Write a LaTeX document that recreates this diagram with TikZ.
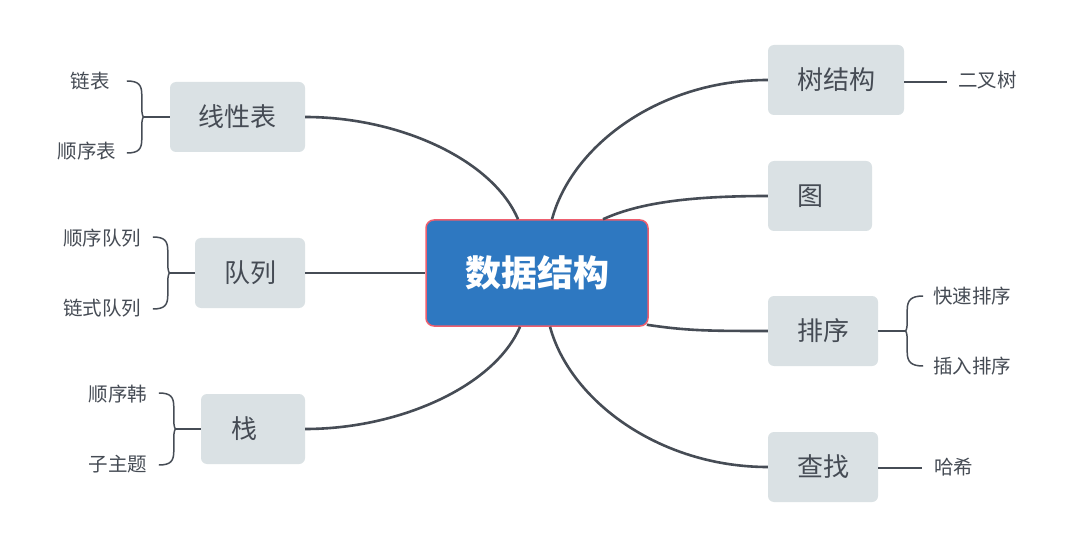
\documentclass[tikz,border=0pt]{standalone}
\usepackage{fontspec}
\setmainfont{Noto Sans CJK SC}
\usetikzlibrary{calc}
\definecolor{linec}{HTML}{464C55}
\definecolor{boxc}{HTML}{DAE1E4}
\definecolor{txtc}{HTML}{454B54}
\definecolor{mainc}{HTML}{2E78C1}
\definecolor{mainb}{HTML}{EE5E6E}
\begin{document}
\begin{tikzpicture}[x=1pt,y=-1pt,
  topic/.style={fill=boxc, rounded corners=6pt, minimum height=70pt, inner sep=0pt, text=txtc, font=\fontsize{26}{26}\selectfont},
  sub/.style={text=txtc, font=\fontsize{19.5}{19.5}\selectfont, inner sep=0pt},
  mainbox/.style={fill=mainc, draw=mainb, line width=1.5pt, rounded corners=8pt, minimum width=222pt, minimum height=106pt, inner sep=0pt, text=white, font=\fontsize{36}{36}\selectfont\bfseries},
  conn/.style={draw=linec, line width=2.6pt},
  thinline/.style={draw=linec, line width=1.5pt},
  lbr/.pic={\draw[thinline] (-17,-36) .. controls (-5,-36) and (-2,-32) .. (-2,-22) -- (-2,-9) .. controls (-2,-3) and (-1,0) .. (0,0) .. controls (-1,0) and (-2,3) .. (-2,9) -- (-2,22) .. controls (-2,32) and (-5,36) .. (-17,36);},
  rbr/.pic={\draw[thinline] (18,-35) .. controls (6,-35) and (2,-31) .. (2,-21) -- (2,-9) .. controls (2,-3) and (1,0) .. (0,0) .. controls (1,0) and (2,3) .. (2,9) -- (2,21) .. controls (2,31) and (6,35) .. (18,35);}
]
\fill[white] (0,0) rectangle (1074,548);
\useasboundingbox (0,0) rectangle (1074,548);

% central topic
\node[mainbox] (ctr) at (537,273) {数据结构};

% main topics
\node[topic, minimum width=135pt] (l1) at (237.5,117) {线性表};
\node[topic, minimum width=110pt] (l2) at (250,273) {队列};
\node[topic, minimum width=104pt] (l3) at (253,429) {栈\kern18pt\relax};
\node[topic, minimum width=136pt] (r1) at (836,80) {树结构};
\node[topic, minimum width=104pt] (r2) at (820,196) {图\kern20pt\relax};
\node[topic, minimum width=110pt] (r3) at (823,331) {排序};
\node[topic, minimum width=110pt] (r4) at (823,467) {查找};

% connectors to central topic
\draw[conn] (l1.east) .. controls +(95,0) and +(-25,-59) .. ([xshift=-19pt]ctr.north);
\draw[conn] (l2.east) -- (ctr.west);
\draw[conn] (l3.east) .. controls +(95,0) and +(-25,59) .. ([xshift=-17pt]ctr.south);
\draw[conn] ([xshift=15pt]ctr.north) .. controls +(20,-74) and +(-108,0) .. (r1.west);
\draw[conn] ([xshift=66pt]ctr.north) .. controls +(35,-16) and +(-80,0) .. (r2.west);
\draw[conn] ([xshift=-2pt,yshift=2pt]ctr.south east) .. controls +(40,6) and +(-60,0) .. (r3.west);
\draw[conn] ([xshift=13pt]ctr.south) .. controls +(20,74) and +(-108,0) .. (r4.west);

% sub topics
\node[sub] (a1) at (90,81) {链表};
\node[sub] (a2) at (87,151) {顺序表};
\node[sub] (b1) at (102,238) {顺序队列};
\node[sub] (b2) at (102,308) {链式队列};
\node[sub] (c1) at (118,394) {顺序韩};
\node[sub] (c2) at (118,464) {子主题};
\node[sub, anchor=west] (d1) at (958,80) {二叉树};
\node[sub] (e1) at (972,296) {快速排序};
\node[sub] (e2) at (972,366) {插入排序};
\node[sub, anchor=west] (f1) at (934,467) {哈希};

% braces
\coordinate (ka) at ([xshift=-26pt]l1.west);
\coordinate (kb) at ([xshift=-25pt]l2.west);
\coordinate (kc) at ([xshift=-25pt]l3.west);
\coordinate (ke) at ([xshift=27pt]r3.east);
\draw[thinline] (l1.west) -- (ka);
\draw[thinline] (l2.west) -- (kb);
\draw[thinline] (l3.west) -- (kc);
\draw[thinline] (r3.east) -- (ke);
\pic at (ka) {lbr};
\pic at (kb) {lbr};
\pic at (kc) {lbr};
\pic at (ke) {rbr};

% single sub connectors
\draw[thinline, shorten >=11pt] ([yshift=-2pt]r1.east) -- ([yshift=-2pt]d1.west);
\draw[thinline, shorten >=12pt] ([yshift=-1pt]r4.east) -- ([yshift=-1pt]f1.west);
\end{tikzpicture}
\end{document}
